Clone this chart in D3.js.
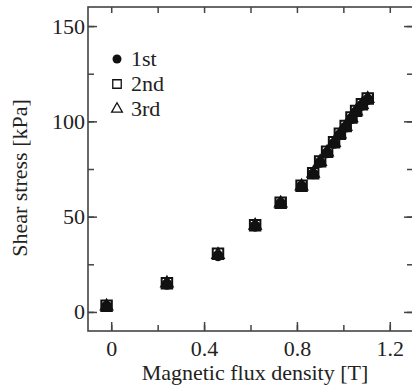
<!DOCTYPE html>
<html>
<head>
<meta charset="utf-8">
<script src="https://cdn.jsdelivr.net/npm/d3@7"></script>
</head>
<body style="margin:0;background:#fff">
<svg id="chart" width="412" height="387"></svg>
<script>
// values
const fluxDensity = [-0.02, 0.24, 0.46, 0.62, 0.73, 0.82, 0.87, 0.90, 0.93, 0.96, 0.985, 1.01, 1.035, 1.055, 1.08, 1.105];
const stress1st = [3, 14.5, 29.5, 45, 57, 66, 72.5, 78.5, 83.5, 88.5, 93, 97, 101.5, 105, 108.5, 111.5];
const stress2nd = [3.2, 15, 30.5, 45.5, 57.3, 66.2, 72.8, 79, 84, 89, 93.5, 97.5, 102, 105.5, 109, 112];
const stress3rd = [3, 15, 30, 45.3, 57, 66, 72.6, 78.8, 83.8, 88.8, 93.2, 97.3, 101.8, 105.3, 108.7, 111.8];
const seriesNames = ['1st', '2nd', '3rd'];
const xTicks = [0, 0.4, 0.8, 1.2];
const yTicks = [0, 50, 100, 150];

const width = 412, height = 387;
const margin = { top: 7, right: -1, bottom: 56, left: 88 };
const AXIS = '#444';
const FONT = 'Liberation Serif';
const FS = 22;

const svg = d3.select('#chart');

const x = d3.scaleLinear().domain([-0.1, 1.3]).range([margin.left, width - margin.right]);
const y = d3.scaleLinear().domain([-10, 160]).range([height - margin.bottom, margin.top]);

const minorX = d3.range(0, 1.3, 0.2);
const minorY = d3.range(0, 160, 25);

const serif = sel => sel
  .attr('font-family', FONT)
  .attr('font-size', FS)
  .style('font-family', FONT)
  .style('font-size', FS + 'px')
  .attr('fill', '#222');

function styleAxis(g) {
  g.attr('font-family', FONT).attr('font-size', FS);
  g.selectAll('.domain').remove();
  g.selectAll('line').attr('stroke', AXIS).attr('stroke-width', 1.5);
  g.selectAll('text').call(serif);
}

// minor ticks (all four sides)
svg.append('g').attr('transform', `translate(0,${y.range()[0]})`)
  .call(d3.axisBottom(x).tickValues(minorX).tickSize(-6).tickFormat(''))
  .call(styleAxis);
svg.append('g').attr('transform', `translate(0,${y.range()[1]})`)
  .call(d3.axisTop(x).tickValues(minorX).tickSize(-6).tickFormat(''))
  .call(styleAxis);
svg.append('g').attr('transform', `translate(${x.range()[0]},0)`)
  .call(d3.axisLeft(y).tickValues(minorY).tickSize(-6).tickFormat(''))
  .call(styleAxis);
svg.append('g').attr('transform', `translate(${x.range()[1]},0)`)
  .call(d3.axisRight(y).tickValues(minorY).tickSize(-6).tickFormat(''))
  .call(styleAxis);

// major ticks with labels
svg.append('g').attr('transform', `translate(0,${y.range()[0]})`)
  .call(d3.axisBottom(x).tickValues(xTicks).tickSize(-9).tickPadding(9).tickFormat(d3.format('~g')))
  .call(styleAxis);
svg.append('g').attr('transform', `translate(${x.range()[0]},0)`)
  .call(d3.axisLeft(y).tickValues(yTicks).tickSize(-9).tickPadding(3))
  .call(styleAxis);
svg.append('g').attr('transform', `translate(${x.range()[1]},0)`)
  .call(d3.axisRight(y).tickValues(yTicks).tickSize(-9).tickFormat(''))
  .call(styleAxis);

// frame
svg.append('rect')
  .attr('x', x.range()[0]).attr('y', y.range()[1])
  .attr('width', x.range()[1] - x.range()[0])
  .attr('height', y.range()[0] - y.range()[1])
  .attr('fill', 'none').attr('stroke', AXIS).attr('stroke-width', 1.6);

const symbols = [
  { type: d3.symbolCircle, size: 95, fill: '#111', stroke: 'none' },
  { type: d3.symbolSquare, size: 110, fill: 'none', stroke: '#111' },
  { type: d3.symbolTriangle, size: 55, fill: 'none', stroke: '#111' }
];
const seriesData = [stress1st, stress2nd, stress3rd];

seriesData.forEach((vals, i) => {
  const s = symbols[i];
  svg.append('g')
    .selectAll('path')
    .data(vals.map((v, j) => ({ b: fluxDensity[j], v })))
    .enter()
    .append('path')
    .attr('d', d3.symbol().type(s.type).size(s.size))
    .attr('transform', d => `translate(${x(d.b)},${y(d.v)})`)
    .attr('fill', s.fill)
    .attr('stroke', s.stroke)
    .attr('stroke-width', 2);
});

// legend
const legend = svg.append('g');
seriesNames.forEach((name, i) => {
  const s = symbols[i];
  const ly = 59 + i * 25;
  legend.append('path')
    .attr('d', d3.symbol().type(s.type).size(i === 0 ? 64 : i === 1 ? 72 : 50))
    .attr('transform', `translate(117,${ly})`)
    .attr('fill', s.fill)
    .attr('stroke', s.stroke)
    .attr('stroke-width', 1.3);
  legend.append('text')
    .attr('x', 131).attr('y', ly + 7)
    .call(serif)
    .text(name);
});

// axis titles
svg.append('text')
  .attr('x', 255).attr('y', 380)
  .attr('text-anchor', 'middle')
  .call(serif)
  .text('Magnetic flux density [T]');

svg.append('text')
  .attr('transform', `translate(27,178) rotate(-90)`)
  .attr('text-anchor', 'middle')
  .call(serif)
  .text('Shear stress [kPa]');
</script>
</body>
</html>
